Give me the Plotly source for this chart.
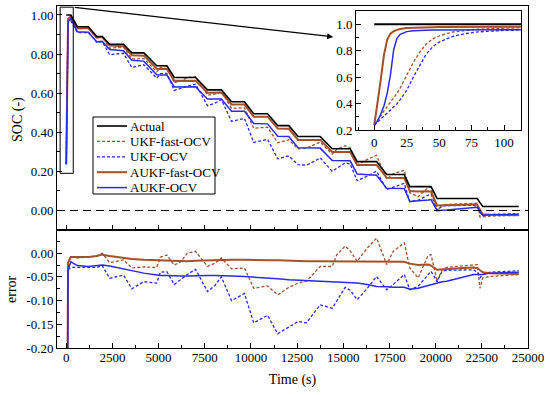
import numpy as np
import plotly.graph_objects as go

# ---------------- data ----------------
time_s = [0, 100, 250, 600, 1200, 1650, 1950, 2350, 3100, 3550, 4200, 4900, 5100, 5450,
          5850, 6200, 6550, 7000, 7650, 8050, 8400, 8950, 9650, 10150, 10900, 11450,
          12050, 12550, 13000, 13550, 13750, 14400, 14650, 15100, 15370, 15750, 16300,
          16800, 17350, 17700, 18300, 18600, 19050, 19600, 19750, 20080, 20350, 20600,
          21500, 22050, 22250, 22400, 22550, 22950, 24500]
soc_actual = [1.0, 1.0, 1.0, 0.94, 0.94, 0.89, 0.89, 0.85, 0.85, 0.806, 0.806, 0.74, 0.74, 0.74,
              0.68, 0.68, 0.68, 0.68, 0.617, 0.617, 0.617, 0.556, 0.556, 0.495, 0.495, 0.434,
              0.434, 0.378, 0.378, 0.378, 0.378, 0.316, 0.316, 0.316, 0.316, 0.25, 0.25,
              0.25, 0.184, 0.184, 0.184, 0.122, 0.122, 0.122, 0.122, 0.061, 0.061, 0.061,
              0.061, 0.061, 0.061, 0.04, 0.02, 0.02, 0.02]
err_ukf_fast = [-0.763, -0.02, -0.006, -0.01, -0.008, -0.006, 0.0, -0.02, -0.014, -0.031, -0.029,
                -0.030, -0.008, -0.004, -0.025, -0.018, 0.0, 0.004, -0.028, -0.021, -0.010,
                -0.033, -0.031, -0.074, -0.069, -0.088, -0.072, -0.063, -0.059, -0.035, -0.028,
                -0.028, -0.003, 0.015, 0.005, -0.017, 0.011, 0.032, -0.024, 0.004, 0.022,
                -0.031, -0.052, -0.004, -0.003, -0.059, -0.035, -0.030, -0.027, -0.024, -0.024,
                -0.074, -0.052, -0.049, -0.045]
err_ukf = [-0.763, -0.035, -0.03, -0.03, -0.03, -0.03, -0.026, -0.053, -0.046, -0.075, -0.06,
           -0.063, -0.040, -0.039, -0.066, -0.055, -0.045, -0.034, -0.081, -0.068, -0.05,
           -0.10, -0.085, -0.147, -0.131, -0.17, -0.155, -0.144, -0.147, -0.12, -0.109,
           -0.116, -0.10, -0.072, -0.078, -0.098, -0.074, -0.049, -0.077, -0.066, -0.045,
           -0.077, -0.07, -0.043, -0.038, -0.06, -0.038, -0.036, -0.035, -0.035, -0.040,
           -0.052, -0.045, -0.040, -0.037]
err_aukf_fast = [-0.763, -0.02, -0.008, -0.008, -0.008, -0.006, -0.003, -0.006, -0.01, -0.012,
                 -0.014, -0.015, -0.016, -0.016, -0.017, -0.017, -0.017, -0.016, -0.015, -0.014,
                 -0.014, -0.014, -0.014, -0.015, -0.015, -0.015, -0.016, -0.017, -0.017, -0.017,
                 -0.017, -0.017, -0.017, -0.017, -0.017, -0.017, -0.017, -0.017, -0.017, -0.017,
                 -0.018, -0.022, -0.025, -0.024, -0.026, -0.035, -0.034, -0.033, -0.031, -0.030,
                 -0.031, -0.036, -0.040, -0.042, -0.044]
err_aukf = [-0.763, -0.035, -0.018, -0.026, -0.028, -0.027, -0.025, -0.027, -0.033, -0.038,
            -0.042, -0.046, -0.047, -0.047, -0.048, -0.048, -0.048, -0.047, -0.047, -0.047,
            -0.047, -0.048, -0.049, -0.050, -0.052, -0.054, -0.056, -0.057, -0.058, -0.059,
            -0.059, -0.061, -0.061, -0.062, -0.062, -0.063, -0.066, -0.070, -0.071, -0.072,
            -0.072, -0.076, -0.074, -0.068, -0.066, -0.062, -0.060, -0.059, -0.051, -0.045,
            -0.045, -0.045, -0.045, -0.042, -0.040]

# inset (first seconds)
inset_t = [0, 2.5, 5, 7.5, 10, 12.5, 15, 17.5, 20, 25, 30, 35, 40, 45, 50, 60, 70, 80, 90, 100, 115]
inset_actual = [1.0] * 21
inset_ukf_fast = [0.237, 0.27, 0.31, 0.345, 0.38, 0.41, 0.44, 0.478, 0.52, 0.616, 0.71, 0.79,
                  0.85, 0.89, 0.912, 0.942, 0.955, 0.963, 0.968, 0.972, 0.975]
inset_ukf = [0.237, 0.26, 0.285, 0.305, 0.328, 0.35, 0.375, 0.40, 0.43, 0.502, 0.60, 0.69,
             0.775, 0.83, 0.866, 0.908, 0.93, 0.943, 0.95, 0.954, 0.957]
inset_aukf_fast = [0.237, 0.40, 0.58, 0.77, 0.885, 0.93, 0.948, 0.958, 0.965, 0.972, 0.975,
                   0.977, 0.978, 0.979, 0.98, 0.98, 0.98, 0.981, 0.981, 0.982, 0.982]
inset_aukf = [0.237, 0.27, 0.32, 0.385, 0.48, 0.62, 0.81, 0.895, 0.925, 0.945, 0.952, 0.955,
              0.957, 0.958, 0.958, 0.959, 0.959, 0.96, 0.96, 0.96, 0.96]

x_ticks = [0, 2500, 5000, 7500, 10000, 12500, 15000, 17500, 20000, 22500, 25000]
err_ticks = [-0.20, -0.15, -0.10, -0.05, 0.00]
err_tick_text = ["-0.20", "-0.15", "-0.10", "-0.05", "0.00"]
legend_names = ["Actual", "UKF-fast-OCV", "UKF-OCV", "AUKF-fast-OCV", "AUKF-OCV"]

# ---------------- styles ----------------
BROWN = "#A5502A"
BLUE = "#2A2AEE"
FONT = "Liberation Serif"
W, H = 550, 395
ML, MR, MT, MB = 57, 22, 6, 47

line_styles = {
    "Actual": dict(color="black", width=1.6),
    "UKF-fast-OCV": dict(color=BROWN, width=1.3, dash="3px,2px"),
    "UKF-OCV": dict(color=BLUE, width=1.3, dash="3px,2px"),
    "AUKF-fast-OCV": dict(color=BROWN, width=2),
    "AUKF-OCV": dict(color=BLUE, width=1.5),
}
series = [
    ("UKF-fast-OCV", err_ukf_fast, inset_ukf_fast),
    ("UKF-OCV", err_ukf, inset_ukf),
    ("AUKF-fast-OCV", err_aukf_fast, inset_aukf_fast),
    ("AUKF-OCV", err_aukf, inset_aukf),
]


def px2paper(px, py):
    return (px - ML) / (W - ML - MR), (H - MB - py) / (H - MT - MB)


act = np.array(soc_actual)
fig = go.Figure()
for name, err, ins in series:
    fig.add_trace(go.Scatter(x=time_s, y=act + np.array(err), mode="lines", name=name,
                             line=line_styles[name], xaxis="x", yaxis="y"))
fig.add_trace(go.Scatter(x=time_s, y=soc_actual, mode="lines", name="Actual",
                         line=line_styles["Actual"], xaxis="x", yaxis="y"))
for name, err, ins in series:
    fig.add_trace(go.Scatter(x=time_s, y=err, mode="lines", name=name,
                             line=line_styles[name], xaxis="x2", yaxis="y2"))
for name, err, ins in series:
    fig.add_trace(go.Scatter(x=inset_t, y=ins, mode="lines", name=name,
                             line=line_styles[name], xaxis="x3", yaxis="y3"))
fig.add_trace(go.Scatter(x=inset_t, y=inset_actual, mode="lines", name="Actual",
                         line=dict(color="black", width=2), xaxis="x3", yaxis="y3"))

tf = dict(family=FONT, size=13, color="black")
axis_common = dict(showline=True, linecolor="black", linewidth=1, mirror=True,
                   ticks="inside", ticklen=5, tickcolor="black", showgrid=False,
                   zeroline=False, tickfont=tf)
tt = dict(family=FONT, size=14, color="black")

fig.update_layout(
    width=W, height=H,
    margin=dict(l=ML, r=MR, t=MT, b=MB),
    paper_bgcolor="white", plot_bgcolor="white",
    font=dict(family=FONT, size=13, color="black"),
    showlegend=False,
    xaxis=dict(axis_common, domain=[0, 1], anchor="y", range=[-500, 25000.1],
               tickvals=x_ticks, showticklabels=False,
               minor=dict(dtick=1250, tick0=0, ticks="inside", ticklen=3, tickcolor="black")),
    yaxis=dict(axis_common, domain=[0.345, 1], anchor="x", range=[-0.1, 1.046],
               dtick=0.2, tick0=0, tickformat=".2f",
               minor=dict(dtick=0.1, tick0=0, ticks="inside", ticklen=3, tickcolor="black")),
    xaxis2=dict(axis_common, domain=[0, 1], anchor="y2", range=[-500, 25000.1],
                tickvals=x_ticks, ticktext=[str(v) for v in x_ticks], matches="x",
                ticklabelstandoff=-3,
                minor=dict(dtick=1250, tick0=0, ticks="inside", ticklen=3, tickcolor="black"),
                title=dict(text="Time (s)", font=tt, standoff=10)),
    yaxis2=dict(axis_common, domain=[0, 0.345], anchor="x2", range=[-0.2, 0.049],
                tickvals=err_ticks, ticktext=err_tick_text,
                minor=dict(dtick=0.025, tick0=0, ticks="inside", ticklen=3, tickcolor="black")),
    xaxis3=dict(axis_common, domain=[0.635, 0.985], anchor="y3", range=[-14, 113],
                dtick=25, tick0=0,
                minor=dict(dtick=12.5, tick0=0, ticks="inside", ticklen=3, tickcolor="black")),
    yaxis3=dict(axis_common, domain=[0.637, 0.985], anchor="x3", range=[0.2, 1.1],
                dtick=0.2, tick0=0.2, tickformat=".1f",
                minor=dict(dtick=0.1, tick0=0.2, ticks="inside", ticklen=3, tickcolor="black")),
)

# y-axis titles placed like the reference
sx, sy = px2paper(18, 120)
ex, ey = px2paper(11, 289)
fig.add_annotation(xref="paper", yref="paper", x=sx, y=sy, text="SOC (-)", textangle=-90,
                   showarrow=False, xanchor="center", yanchor="middle", font=tt)
fig.add_annotation(xref="paper", yref="paper", x=ex, y=ey, text="error", textangle=-90,
                   showarrow=False, xanchor="center", yanchor="middle", font=tt)

# zero reference line, zoom rectangle and arrow
fig.add_shape(type="line", xref="x domain", yref="y", x0=0, x1=1, y0=0, y1=0,
              line=dict(color="black", width=1, dash="8px,5px"))
fig.add_shape(type="rect", xref="x", yref="y", x0=-330, x1=380, y0=0.19, y1=1.04,
              line=dict(color="black", width=1))
fig.add_annotation(xref="x", yref="y", x=14450, y=0.888, axref="x", ayref="y",
                   ax=380, ay=1.04, text="", showarrow=True, arrowhead=2,
                   arrowsize=1, arrowwidth=1.2, arrowcolor="black", standoff=0)

# hand-built legend (compact spacing like the reference)
bx0, by0 = px2paper(93, 194)
bx1, by1 = px2paper(215, 117)
fig.add_shape(type="rect", xref="paper", yref="paper", x0=bx0, x1=bx1, y0=by0, y1=by1,
              line=dict(color="black", width=1), fillcolor="white", layer="above")
for i, name in enumerate(legend_names):
    py = 126 + 15.4 * i
    lx0, ly = px2paper(97, py)
    lx1, _ = px2paper(127, py)
    tx, _ = px2paper(128, py)
    fig.add_shape(type="line", xref="paper", yref="paper", x0=lx0, x1=lx1, y0=ly, y1=ly,
                  line=line_styles[name], layer="above")
    fig.add_annotation(xref="paper", yref="paper", x=tx, y=ly, text=name, showarrow=False,
                       xanchor="left", yanchor="middle", font=dict(family=FONT, size=13, color="black"))

fig.write_html("out.html", config={"displayModeBar": False},
               post_script="document.body.style.margin='0px';")
